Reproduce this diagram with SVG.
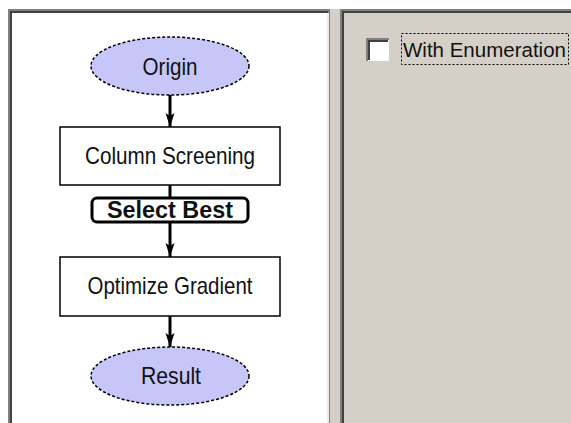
<svg xmlns="http://www.w3.org/2000/svg" width="571" height="423" viewBox="0 0 571 423">
<defs>
<marker id="arr" viewBox="0 0 14 10" refX="14" refY="5" markerWidth="14" markerHeight="10" markerUnits="userSpaceOnUse" orient="auto">
<path d="M0,0.5 L14,5 L0,9.5 L3,5 z" fill="#000"/>
</marker>
<style>
.lbl{font-family:"Liberation Sans",Arial,sans-serif;font-size:24px;fill:#111;text-anchor:middle}
.bold{font-weight:bold}
.ell{fill:#c6c6f8;stroke:#000;stroke-width:1.5;stroke-dasharray:3 2}
.box{fill:#fff;stroke:#000;stroke-width:1.5}
.edge{stroke:#000;stroke-width:3;fill:none}
</style>
</defs>
<rect x="0" y="0" width="571" height="423" fill="#fff"/>
<!-- left panel -->
<rect x="8" y="9" width="322" height="420" fill="#808080"/>
<rect x="10" y="11" width="318" height="420" fill="#404040"/>
<rect x="12" y="13" width="316" height="420" fill="#fff"/>
<rect x="327" y="13" width="2" height="410" fill="#ececec"/>
<!-- divider -->
<rect x="330" y="9" width="10" height="414" fill="#d4d0c8"/>
<!-- right panel -->
<rect x="340" y="9" width="231" height="414" fill="#808080"/>
<rect x="342" y="11" width="229" height="412" fill="#404040"/>
<rect x="344" y="13" width="227" height="410" fill="#d4d0c8"/>
<g id="checkbox">
<rect x="367" y="39" width="22" height="22" fill="#fff"/>
<path d="M367,61 V39 H389" stroke="#808080" stroke-width="2" fill="none"/>
<path d="M369,60 V41 H388" stroke="#404040" stroke-width="2" fill="none"/>
<rect x="401.5" y="33.5" width="167" height="31" fill="none" stroke="#000" stroke-width="1" stroke-dasharray="2 2"/>
<text x="403" y="57" class="lbl" style="text-anchor:start;font-size:20.5px">With Enumeration</text>
</g>
<g id="connectors">
<line class="edge" x1="170" y1="95" x2="170" y2="127" marker-end="url(#arr)"/>
<line class="edge" x1="170" y1="185" x2="170" y2="198"/>
<line class="edge" x1="170" y1="222" x2="170" y2="257" marker-end="url(#arr)"/>
<line class="edge" x1="170" y1="316" x2="170" y2="347" marker-end="url(#arr)"/>
<g id="label-select-best">
<rect x="92" y="198" width="156" height="24" rx="5" fill="#fff" stroke="#000" stroke-width="3"/>
<text x="170" y="218" class="lbl bold" textLength="126" lengthAdjust="spacingAndGlyphs">Select Best</text>
</g>
</g>
<g id="origin">
<ellipse class="ell" cx="170" cy="66" rx="79" ry="29"/>
<text x="170" y="75" class="lbl" textLength="55" lengthAdjust="spacingAndGlyphs">Origin</text>
</g>
<g id="column-screening">
<rect class="box" x="60" y="127" width="220" height="58"/>
<text x="170" y="164" class="lbl" textLength="170" lengthAdjust="spacingAndGlyphs">Column Screening</text>
</g>
<g id="optimize-gradient">
<rect class="box" x="60" y="257" width="220" height="59"/>
<text x="170" y="294" class="lbl" textLength="165" lengthAdjust="spacingAndGlyphs">Optimize Gradient</text>
</g>
<g id="result">
<ellipse class="ell" cx="170" cy="376" rx="79" ry="29"/>
<text x="171" y="384" class="lbl" textLength="60" lengthAdjust="spacingAndGlyphs">Result</text>
</g>
</svg>
